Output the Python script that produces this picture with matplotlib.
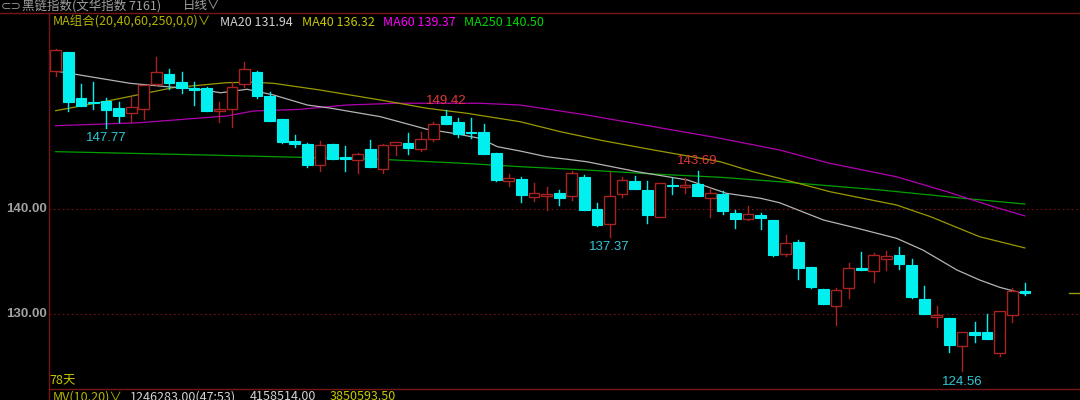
import matplotlib
matplotlib.use("Agg")
import matplotlib.pyplot as plt
from matplotlib.patches import Rectangle
from matplotlib.lines import Line2D

plt.rcParams['font.family'] = ['Noto Sans CJK SC', 'DejaVu Sans']

opens = [153.17, 154.95, 150.63, 150.25, 150.31, 149.65, 149.14, 149.58, 151.90, 152.86,
         152.15, 151.58, 151.52, 149.36, 149.52, 151.90, 153.10, 150.82, 148.57, 146.46,
         146.19, 144.19, 146.19, 145.01, 144.67, 145.77, 143.81, 146.10, 146.34, 145.77,
         146.70, 148.89, 148.29, 147.36, 147.36, 145.33, 142.67, 142.86, 141.20, 141.27,
         141.55, 141.24, 143.05, 140.00, 138.57, 141.46, 142.72, 141.81, 139.27, 142.31,
         142.10, 142.41, 141.05, 141.49, 139.68, 139.08, 139.49, 138.95, 135.77, 136.89,
         134.53, 132.41, 130.79, 132.48, 134.38, 134.15, 135.30, 135.68, 134.67, 131.46,
         129.74, 129.62, 127.01, 128.34, 128.31, 126.34, 129.93, 132.19]
highs = [155.27, 155.00, 151.93, 152.10, 150.57, 150.19, 150.72, 151.85, 154.48, 153.36,
         153.05, 152.10, 151.68, 150.22, 152.10, 154.00, 153.20, 151.14, 148.60, 147.08,
         146.29, 146.50, 146.20, 146.06, 145.39, 146.60, 146.22, 146.41, 147.24, 147.33,
         148.30, 149.42, 148.67, 148.72, 148.15, 145.40, 143.39, 143.10, 142.50, 142.15,
         141.84, 143.65, 143.27, 140.57, 143.58, 143.10, 143.20, 142.67, 142.50, 142.95,
         142.95, 143.69, 142.00, 141.74, 139.93, 140.31, 139.65, 139.00, 137.55, 137.05,
         134.55, 132.45, 132.48, 134.89, 135.93, 135.87, 136.06, 136.41, 135.24, 132.70,
         130.79, 129.65, 128.30, 129.27, 130.03, 130.35, 132.48, 133.01]
lows = [152.70, 149.39, 149.81, 149.55, 147.77, 148.31, 148.31, 148.57, 151.85, 151.43,
        151.05, 149.93, 149.33, 148.34, 147.87, 151.62, 150.57, 148.44, 146.29, 145.96,
        144.00, 143.68, 144.82, 143.68, 143.49, 144.00, 143.43, 145.14, 145.30, 145.58,
        146.50, 148.10, 146.91, 146.76, 145.24, 142.70, 142.22, 140.67, 140.79, 139.93,
        140.41, 140.89, 139.90, 138.41, 137.37, 141.14, 141.93, 138.67, 139.27, 141.46,
        141.52, 141.27, 139.24, 139.52, 138.25, 138.98, 138.17, 135.60, 135.55, 133.36,
        132.50, 130.95, 128.98, 131.58, 134.20, 133.08, 134.22, 134.34, 131.60, 130.00,
        128.76, 126.38, 124.56, 127.39, 127.68, 126.03, 129.27, 131.87]
closes = [155.14, 150.22, 149.81, 150.10, 149.49, 148.89, 149.71, 151.81, 153.05, 152.06,
          151.58, 151.36, 149.33, 149.52, 151.62, 153.33, 150.76, 148.44, 146.41, 146.22,
          144.25, 146.10, 144.82, 144.79, 145.30, 144.00, 146.10, 146.38, 145.81, 146.70,
          148.15, 148.10, 147.20, 147.24, 145.30, 142.76, 142.95, 141.36, 141.52, 141.46,
          141.10, 143.46, 139.90, 138.48, 141.30, 142.76, 141.93, 139.46, 142.48, 142.19,
          142.31, 141.27, 141.55, 139.84, 139.05, 139.55, 139.14, 135.68, 136.79, 134.38,
          132.57, 130.98, 132.29, 134.44, 134.22, 135.62, 135.52, 134.76, 131.62, 130.03,
          129.90, 127.05, 128.29, 128.06, 127.68, 130.34, 132.19, 132.00]

ma20_x = [0, 5.9, 8.8, 11.2, 13.1, 15.2, 17.3, 20.0, 21.8, 25.8, 29.5, 31.6, 33.7, 35.1, 36.9,
          39.0, 42.2, 46.2, 50.2, 53.3, 56.0, 57.5, 61.0, 63.7, 66.8, 68.9, 71.6, 73.4, 75.0, 77]
ma20_y = [153.17, 152.00, 151.68, 151.46, 151.10, 151.43, 150.89, 149.93, 149.64, 148.82,
          147.62, 147.24, 146.76, 145.96, 145.55, 145.01, 144.53, 143.58, 142.79, 141.52,
          141.05, 140.63, 138.98, 138.19, 137.24, 136.12, 134.22, 133.27, 132.57, 131.94]
ma40_x = [0, 4.1, 9.3, 13.6, 15.7, 17.3, 21.0, 25.8, 29.5, 32.7, 36.9, 40.1, 43.5, 47.5,
          52.8, 55.4, 57.5, 61.5, 66.8, 69.5, 73.4, 77]
ma40_y = [149.39, 150.31, 151.58, 152.06, 152.10, 152.00, 151.36, 150.41, 149.62, 149.14,
          148.34, 147.39, 146.53, 145.65, 144.53, 143.58, 142.95, 141.68, 140.41, 139.30,
          137.39, 136.32]
ma60_x = [0, 6.7, 13.6, 15.7, 19.4, 23.1, 27.1, 33.7, 36.9, 42.2, 47.5, 52.8, 57.5, 61.5,
          66.8, 70.8, 74.5, 77]
ma60_y = [147.96, 148.25, 148.89, 149.36, 149.52, 149.93, 150.10, 150.10, 149.93, 148.98,
          147.87, 146.76, 145.65, 144.38, 143.10, 141.68, 140.25, 139.37]
ma250_x = [0, 12.0, 19.4, 25.8, 32.4, 36.9, 42.2, 47.5, 52.8, 57.5, 65.5, 72.1, 77]
ma250_y = [145.49, 145.17, 144.95, 144.76, 144.38, 144.06, 143.74, 143.36, 143.05, 142.63,
           141.84, 141.05, 140.50]

hi_marks = [149.42, 143.69]
lo_marks = [147.77, 137.37, 124.56]
yticks = [130, 140]

RED = '#a82222'
CYAN = '#00f0f0'

fig = plt.figure(figsize=(10.8, 4), dpi=100, facecolor='black')
ax = fig.add_axes([49/1080, 11/400, 1031/1080, 376/400], facecolor='black')
for s in ax.spines.values():
    s.set_visible(False)
ax.set_xlim(-0.532, 81.38)
ax.set_ylim(122.886, 158.695)
ax.set_xticks([])
ax.set_yticks([])

for t in yticks:
    ax.axhline(t, color='#7a1010', lw=0.8, ls=(0, (1.5, 2.5)))
    ax.text(-0.002, t, '%.2f' % t, transform=ax.get_yaxis_transform(), ha='right', va='center',
            color='#a0a0a0', fontsize=9.5, fontweight='bold', family='Liberation Sans')

ax.plot(ma250_x, ma250_y, color='#00a000', lw=0.9)
ax.plot(ma60_x, ma60_y, color='#b000b0', lw=0.9)
ax.plot(ma40_x, ma40_y, color='#9a9a00', lw=0.9)
ax.plot(ma20_x, ma20_y, color='#b4b4b4', lw=0.9)

w = 0.85
for i in range(len(closes)):
    o, h, l, c = opens[i], highs[i], lows[i], closes[i]
    if c >= o:
        ax.plot([i, i], [c, h], color=RED, lw=1)
        ax.plot([i, i], [l, o], color=RED, lw=1)
        ax.add_patch(Rectangle((i - w/2, o), w, c - o, facecolor='black', edgecolor=RED, lw=1, zorder=3))
    else:
        ax.plot([i, i], [l, h], color=CYAN, lw=1)
        ax.add_patch(Rectangle((i - w/2, c), w, o - c, facecolor=CYAN, edgecolor=CYAN, lw=0.8, zorder=3))

for v in hi_marks:
    i = highs.index(v)
    ax.annotate('%.2f' % v, (i, v), xytext=(0, 2.5), textcoords='offset points', ha='center', va='bottom',
                color='#e03838', fontsize=9.5, family='Liberation Sans')
for v in lo_marks:
    i = lows.index(v)
    ax.annotate('%.2f' % v, (i, v), xytext=(0, -3), textcoords='offset points', ha='center', va='top',
                color='#2ec8d8', fontsize=9.5, family='Liberation Sans')

# last price marker at the right edge
ax.plot([80.5, 81.38], [closes[-1], closes[-1]], color='#9a9a00', lw=1)

# frame lines
fig.add_artist(Line2D([0, 1], [1 - 13/400, 1 - 13/400], color='#7a1515', lw=1))
fig.add_artist(Line2D([49/1080, 1], [11/400, 11/400], color='#7a1515', lw=1))
fig.add_artist(Line2D([49/1080, 49/1080], [0, 1 - 13/400], color='#7a1515', lw=1))

def ftext(x, y, s, c, **kw):
    fig.text(x/1080, 1 - y/400, s, color=c, fontsize=9, va='center', **kw)

ftext(1, 6, '⊂⊃', '#8a8a8a', family='DejaVu Sans')
ftext(22, 6, '黑链指数(文华指数 7161)', '#a0a0a0')
ftext(183, 6, '日线∨', '#a0a0a0')

ftext(53, 22, 'MA组合(20,40,60,250,0,0)∨', '#b4b400')
ftext(220, 22, 'MA20 %.2f' % ma20_y[-1], '#d2d2d2')
ftext(302, 22, 'MA40 %.2f' % ma40_y[-1], '#c8c800')
ftext(383, 22, 'MA60 %.2f' % ma60_y[-1], '#ff00ff')
ftext(464, 22, 'MA250 %.2f' % ma250_y[-1], '#00d800')

ftext(49, 381, '%d天' % len(closes), '#c8c800')
ftext(53, 397, 'MV(10,20)∨', '#b4b400')
ftext(130, 397, '1246283.00(47:53)', '#d2d2d2')
ftext(250, 397, '4158514.00', '#d2d2d2')
ftext(330, 397, '3850593.50', '#c8c800')

fig.savefig('out.png', dpi=100, facecolor='black')
